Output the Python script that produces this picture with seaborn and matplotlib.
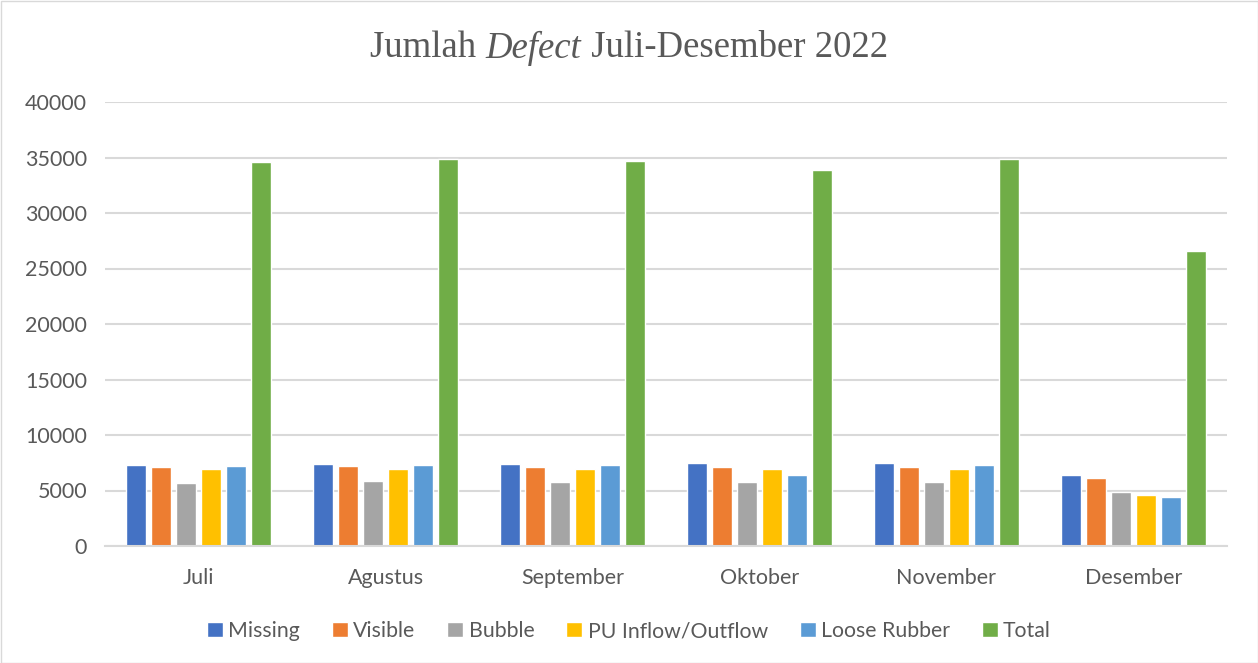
import matplotlib
matplotlib.use("Agg")
import matplotlib.pyplot as plt
from matplotlib.patches import Rectangle
import seaborn as sns
import pandas as pd

# data
months = ["Juli", "Agustus", "September", "Oktober", "November", "Desember"]
series = ["Missing", "Visible", "Bubble", "PU Inflow/Outflow", "Loose Rubber", "Total"]
missing = [7300, 7400, 7400, 7480, 7480, 6400]
visible = [7130, 7220, 7130, 7130, 7130, 6140]
bubble = [5690, 5870, 5780, 5780, 5780, 4880]
pu_flow = [6950, 6950, 6950, 6950, 6950, 4610]
loose_rubber = [7220, 7300, 7300, 6400, 7300, 4430]
total = [34600, 34870, 34690, 33870, 34870, 26580]
colors = ["#4472C4", "#ED7D31", "#A5A5A5", "#FFC000", "#5B9BD5", "#70AD47"]

values = [missing, visible, bubble, pu_flow, loose_rubber, total]
df = pd.DataFrame([
    {"Bulan": m, "Jenis": s, "Jumlah": v[i]}
    for s, v in zip(series, values)
    for i, m in enumerate(months)
])

sns.set_theme(style="white")
plt.rcParams["font.family"] = ["Lato", "DejaVu Sans"]
text_gray = "#595959"
grid_gray = "#d9d9d9"

fig = plt.figure(figsize=(12.58, 6.63), dpi=100)
ax = fig.add_axes([105 / 1258, 1 - 546 / 663, 1122 / 1258, 444 / 663])

sns.barplot(data=df, x="Bulan", y="Jumlah", hue="Jenis", order=months,
            hue_order=series, palette=colors, width=0.8, gap=0.2,
            saturation=1, ax=ax, legend=True)

ax.set_xlim(-0.5, 5.5)
ax.set_ylim(0, 40000)
ax.set_yticks(range(0, 40001, 5000))
ax.set_xlabel("")
ax.set_ylabel("")
ax.yaxis.grid(True, color=grid_gray, linewidth=1.5)
ax.set_axisbelow(True)
for side in ["top", "right", "left"]:
    ax.spines[side].set_visible(False)
ax.spines["bottom"].set_color(grid_gray)
ax.spines["bottom"].set_linewidth(1.5)
ax.tick_params(axis="both", length=0, labelsize=15.5, labelcolor=text_gray)
ax.tick_params(axis="y", pad=13)
ax.tick_params(axis="x", pad=16)

handles, labels = ax.get_legend_handles_labels()
ax.legend_.remove()
fig.legend(handles, labels, loc="center", bbox_to_anchor=(0.5, 1 - 631 / 663),
           ncol=6, frameon=False, fontsize=15.3, handlelength=0.75, handleheight=0.75,
           handletextpad=0.25, columnspacing=1.5, labelcolor=text_gray)

# title with italic word
title_y = 1 - 48 / 663
parts = [("Jumlah ", "normal"), ("Defect", "italic"), (" Juli-Desember 2022", "normal")]
renderer = fig.canvas.get_renderer()
texts = []
for s, st in parts:
    t = fig.text(0, title_y, s, fontsize=26.5, family="Liberation Serif", style=st,
                 color=text_gray, va="center", ha="left")
    texts.append(t)
widths = [t.get_window_extent(renderer).width / fig.bbox.width for t in texts]
x = 0.5 - sum(widths) / 2
for t, w in zip(texts, widths):
    t.set_x(x)
    x += w

fig.patches.append(Rectangle((0.5 / 1258, 0.5 / 663), 1 - 1 / 1258, 1 - 1 / 663,
                             transform=fig.transFigure, fill=False,
                             edgecolor=grid_gray, linewidth=1))

fig.savefig("out.png", dpi=100)
